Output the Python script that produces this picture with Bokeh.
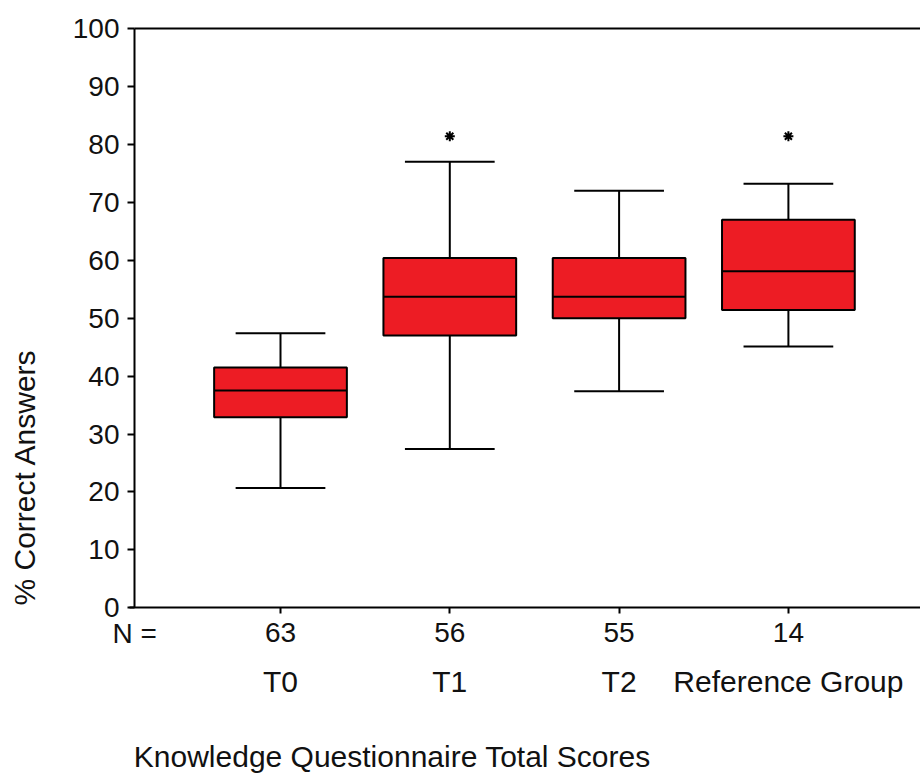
import numpy as np
from math import pi
from bokeh.plotting import figure
from bokeh.models import (Range1d, LinearAxis, FixedTicker, ColumnDataSource)
from bokeh.core.properties import value
from bokeh.embed import file_html
from bokeh.resources import INLINE

# ---- data ----
groups = ["T0", "T1", "T2", "Reference Group"]
n_counts = [63, 56, 55, 14]
lower_whisker = [20.7, 27.4, 37.4, 45.1]
q1 = [32.9, 47.0, 50.0, 51.4]
median = [37.5, 53.7, 53.7, 58.1]
q3 = [41.5, 60.4, 60.4, 67.0]
upper_whisker = [47.4, 77.0, 72.0, 73.2]
outlier_groups = ["T1", "Reference Group"]
outlier_values = [81.4, 81.4]
y_ticks = [0, 10, 20, 30, 40, 50, 60, 70, 80, 90, 100]
y_title = "% Correct Answers"
x_title = "Knowledge Questionnaire Total Scores"
n_prefix = "N ="

# ---- layout / style ----
FONT = "Liberation Sans"
RED = "#ED1C24"
TXT = "#111111"
W, H = 920, 774
PX_X = 169.3          # px per category unit
PX_Y = 5.793          # px per percentage point
XS = 1 - 280 / PX_X   # x value at the canvas' left edge
XE = XS + W / PX_X
Y0_PX = 607.3         # pixel row of y = 0
YE = Y0_PX / PX_Y     # y value at the canvas' top edge
YS = -(H - Y0_PX) / PX_Y
AX_X = XS + 134 / PX_X  # where the y axis stands


def xv(px):
    return XS + px / PX_X


def yv(py):
    return (Y0_PX - py) / PX_Y


box_w = 0.784
cap_w = 0.53

pos = np.arange(1, len(groups) + 1, dtype=float)
src = ColumnDataSource(dict(
    x=pos, lo=lower_whisker, q1=q1, med=median, q3=q3, hi=upper_whisker,
    bl=pos - box_w / 2, br=pos + box_w / 2,
    cl=pos - cap_w / 2, cr=pos + cap_w / 2,
))
out_src = ColumnDataSource(dict(
    x=[pos[groups.index(g)] for g in outlier_groups], y=outlier_values))

p = figure(width=W, height=H, output_backend="svg", toolbar_location=None,
           x_range=Range1d(XS, XE), y_range=Range1d(YS, YE),
           x_axis_location=None, y_axis_location=None, min_border=0)
p.outline_line_color = None
p.background_fill_color = "white"
p.border_fill_color = "white"
p.xgrid.visible = False
p.ygrid.visible = False

# whiskers
p.segment(x0="x", y0="q3", x1="x", y1="hi", source=src, line_color="black", line_width=2)
p.segment(x0="x", y0="q1", x1="x", y1="lo", source=src, line_color="black", line_width=2)
p.segment(x0="cl", y0="hi", x1="cr", y1="hi", source=src, line_color="black", line_width=2)
p.segment(x0="cl", y0="lo", x1="cr", y1="lo", source=src, line_color="black", line_width=2)
# boxes
p.vbar(x="x", width=box_w, bottom="q1", top="q3", source=src,
       fill_color=RED, line_color="black", line_width=2)
p.segment(x0="bl", y0="med", x1="br", y1="med", source=src, line_color="black", line_width=2)
# extremes
p.scatter(x="x", y="y", source=out_src, marker="asterisk", size=10,
          line_color="black", line_width=2)

# y axis
ya = LinearAxis(fixed_location=AX_X, bounds=(0, 100), ticker=FixedTicker(ticks=y_ticks))
ya.axis_line_width = 2
ya.major_tick_line_width = 2
ya.major_tick_out = 7
ya.major_tick_in = 0
ya.minor_tick_line_color = None
ya.major_label_text_font = FONT
ya.major_label_text_font_size = "28px"
ya.major_label_text_color = TXT
ya.major_label_standoff = 8
p.add_layout(ya, "left")

# x axis with N counts
xa = LinearAxis(fixed_location=0, bounds=(xv(129), XE), ticker=FixedTicker(ticks=list(pos)),
                major_label_overrides={float(x): str(n) for x, n in zip(pos, n_counts)})
xa.axis_line_width = 2
xa.major_tick_line_width = 2
xa.major_tick_out = 6
xa.major_tick_in = 0
xa.minor_tick_line_color = None
xa.major_label_text_font = FONT
xa.major_label_text_font_size = "28px"
xa.major_label_text_color = TXT
xa.major_label_standoff = 9
p.add_layout(xa, "below")

# top border line
top = LinearAxis(fixed_location=100, bounds=(AX_X, XE), ticker=FixedTicker(ticks=[]))
top.axis_line_width = 2
top.major_tick_line_color = None
top.minor_tick_line_color = None
top.major_label_text_font_size = "0px"
p.add_layout(top, "above")

# "N =" row label
p.text(x=[xv(112)], y=[yv(633)], text=[n_prefix], text_font=value(FONT),
       text_font_size="28px", text_color=TXT, text_align="left", text_baseline="middle")
# group names
p.text(x=pos, y=[yv(681)] * len(groups), text=groups, text_font=value(FONT),
       text_font_size="30px", text_color=TXT, text_align="center", text_baseline="middle")
# x title
p.text(x=[xv(133.3)], y=[yv(772)], text=[x_title], text_font=value(FONT),
       text_font_size="30px", text_color=TXT, text_align="left", text_baseline="bottom")
# y title
p.text(x=[xv(24)], y=[yv(605)], text=[y_title], angle=pi / 2, text_font=value(FONT),
       text_font_size="30px", text_color=TXT, text_align="left", text_baseline="middle")

open("out.html", "w").write(file_html(p, INLINE))
